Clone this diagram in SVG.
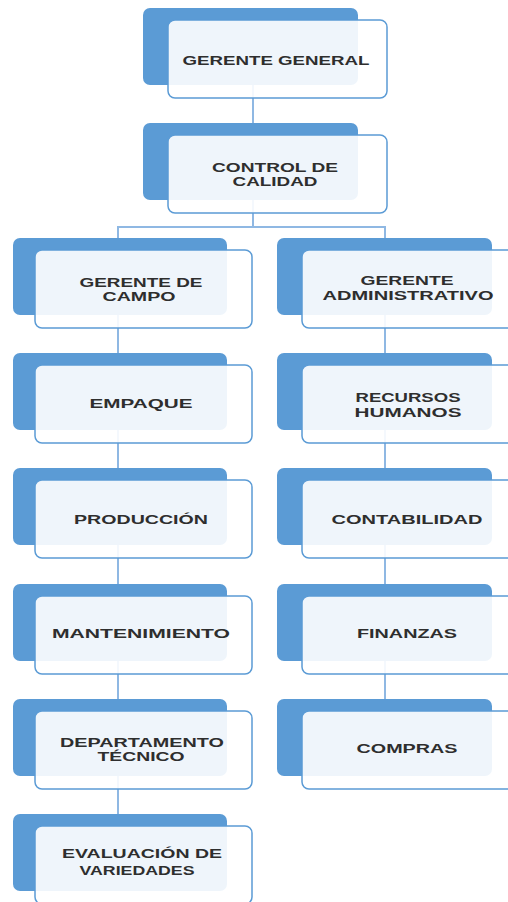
<svg xmlns="http://www.w3.org/2000/svg" width="508" height="902" viewBox="0 0 508 902">
<style>
.bk{fill:#5b9bd5;}
.fr{fill:#ffffff;fill-opacity:0.9;stroke:#5b9bd5;stroke-width:1.5;}
.cn{stroke:#8fb8e3;stroke-width:2;fill:none;}
text{font-family:"Liberation Sans",Arial,sans-serif;font-weight:bold;font-size:12px;fill:#2e2e2e;text-anchor:middle;}
</style>
<rect width="508" height="902" fill="#ffffff"/>
<g id="connectors">
<line class="cn" x1="253" y1="80" x2="253" y2="227"/>
<polyline class="cn" points="118,240 118,227 385,227 385,240"/>
<line class="cn" x1="118" y1="238" x2="118" y2="816"/>
<line class="cn" x1="385" y1="238" x2="385" y2="700"/>
</g>
<g id="gerente-general">
<rect class="bk" x="143" y="8" width="215" height="77" rx="7"/>
<rect class="fr" x="168" y="20" width="219" height="78" rx="7"/>
<text x="276" y="65" textLength="187" lengthAdjust="spacingAndGlyphs">GERENTE GENERAL</text>
</g>
<g id="control-calidad">
<rect class="bk" x="143" y="123" width="215" height="77" rx="7"/>
<rect class="fr" x="168" y="135" width="219" height="78" rx="7"/>
<text x="275" y="172" textLength="126" lengthAdjust="spacingAndGlyphs">CONTROL DE</text>
<text x="275" y="186" textLength="85" lengthAdjust="spacingAndGlyphs">CALIDAD</text>
</g>
<g id="gerente-campo">
<rect class="bk" x="13" y="238" width="214" height="77" rx="7"/>
<rect class="fr" x="35" y="250" width="217" height="78" rx="7"/>
<text x="141" y="287" textLength="123" lengthAdjust="spacingAndGlyphs">GERENTE DE</text>
<text x="139" y="301" textLength="73" lengthAdjust="spacingAndGlyphs">CAMPO</text>
</g>
<g id="gerente-administrativo">
<rect class="bk" x="277" y="238" width="215" height="77" rx="7"/>
<rect class="fr" x="302" y="250" width="217" height="78" rx="7"/>
<text x="407" y="285" textLength="93" lengthAdjust="spacingAndGlyphs">GERENTE</text>
<text x="408" y="300" textLength="171" lengthAdjust="spacingAndGlyphs">ADMINISTRATIVO</text>
</g>
<g id="empaque">
<rect class="bk" x="13" y="353" width="214" height="77" rx="7"/>
<rect class="fr" x="35" y="365" width="217" height="78" rx="7"/>
<text x="141" y="408" textLength="103" lengthAdjust="spacingAndGlyphs">EMPAQUE</text>
</g>
<g id="recursos-humanos">
<rect class="bk" x="277" y="353" width="215" height="77" rx="7"/>
<rect class="fr" x="302" y="365" width="217" height="78" rx="7"/>
<text x="408" y="402" textLength="105" lengthAdjust="spacingAndGlyphs">RECURSOS</text>
<text x="408" y="417" textLength="107" lengthAdjust="spacingAndGlyphs">HUMANOS</text>
</g>
<g id="produccion">
<rect class="bk" x="13" y="468" width="214" height="77" rx="7"/>
<rect class="fr" x="35" y="480" width="217" height="78" rx="7"/>
<text x="141" y="524" textLength="134" lengthAdjust="spacingAndGlyphs">PRODUCCIÓN</text>
</g>
<g id="contabilidad">
<rect class="bk" x="277" y="468" width="215" height="77" rx="7"/>
<rect class="fr" x="302" y="480" width="217" height="78" rx="7"/>
<text x="407" y="524" textLength="151" lengthAdjust="spacingAndGlyphs">CONTABILIDAD</text>
</g>
<g id="mantenimiento">
<rect class="bk" x="13" y="584" width="214" height="77" rx="7"/>
<rect class="fr" x="35" y="596" width="217" height="78" rx="7"/>
<text x="141" y="638" textLength="178" lengthAdjust="spacingAndGlyphs">MANTENIMIENTO</text>
</g>
<g id="finanzas">
<rect class="bk" x="277" y="584" width="215" height="77" rx="7"/>
<rect class="fr" x="302" y="596" width="217" height="78" rx="7"/>
<text x="407" y="638" textLength="100" lengthAdjust="spacingAndGlyphs">FINANZAS</text>
</g>
<g id="departamento-tecnico">
<rect class="bk" x="13" y="699" width="214" height="77" rx="7"/>
<rect class="fr" x="35" y="711" width="217" height="78" rx="7"/>
<text x="142" y="747" textLength="164" lengthAdjust="spacingAndGlyphs">DEPARTAMENTO</text>
<text x="141" y="761" textLength="87" lengthAdjust="spacingAndGlyphs">TÉCNICO</text>
</g>
<g id="compras">
<rect class="bk" x="277" y="699" width="215" height="77" rx="7"/>
<rect class="fr" x="302" y="711" width="217" height="78" rx="7"/>
<text x="407" y="753" textLength="101" lengthAdjust="spacingAndGlyphs">COMPRAS</text>
</g>
<g id="evaluacion-variedades">
<rect class="bk" x="13" y="814" width="214" height="77" rx="7"/>
<rect class="fr" x="35" y="826" width="217" height="78" rx="7"/>
<text x="142" y="858" textLength="160" lengthAdjust="spacingAndGlyphs">EVALUACIÓN DE</text>
<text x="137" y="875" textLength="115" lengthAdjust="spacingAndGlyphs">VARIEDADES</text>
</g>
</svg>
